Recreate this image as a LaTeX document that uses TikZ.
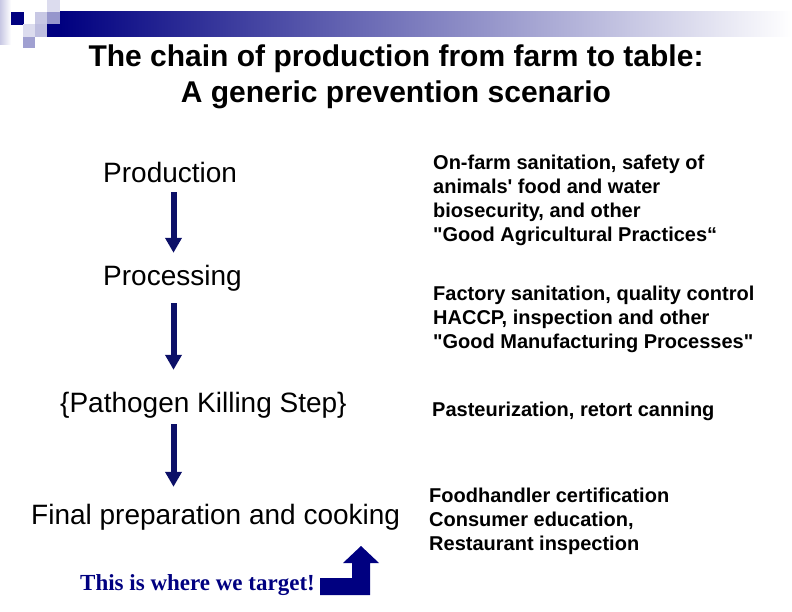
\documentclass[tikz,border=0pt]{standalone}
\usepackage{fontspec}
\setmainfont{Liberation Sans}[Ligatures=TeXOff]
\newfontfamily\targetface{Liberation Serif}
\usetikzlibrary{positioning}
\usetikzlibrary{arrows.meta}

\definecolor{deepblue}{RGB}{0,0,128}
\definecolor{arrowblue}{RGB}{12,16,104}
\definecolor{paleblue}{RGB}{220,220,238}
\definecolor{lightblue}{RGB}{200,200,228}
\definecolor{midblue}{RGB}{150,150,204}

\begin{document}
\begin{tikzpicture}[
x=1pt, y=-1pt,
flow/.style={draw=arrowblue, line width=6pt, -{Triangle[width=16pt,length=15pt]}},
stage/.style={anchor=west, inner sep=0pt, text height=21pt, text depth=6pt,
  font=\fontsize{28}{32}\selectfont},
practice/.style={anchor=west, inner sep=0pt, align=left,
  font=\bfseries\fontsize{20}{24}\selectfont}
]
\useasboundingbox (0,0) rectangle (792,612);

% header squares and bar
\shade[left color=lightblue, right color=white] (0,0) rectangle (11,45);
\shade[left color=deepblue, right color=white] (60,12) rectangle (792,37);
\fill[paleblue] (47,0) rectangle (60,12);
\fill[deepblue] (11,12) rectangle (24,25);
\fill[lightblue] (35,12) rectangle (47,24);
\fill[midblue] (47,12) rectangle (60,24);
\fill[paleblue] (23,24) rectangle (35,37);
\fill[lightblue!80!midblue] (35,24) rectangle (47,37);
\fill[deepblue] (47,24) rectangle (60,37);
\fill[midblue!80!lightblue] (23,37) rectangle (35,48);

\node[align=center, font=\bfseries\fontsize{30}{36}\selectfont] (title) at (396,76.9)
  {The chain of production from farm to table:\\A generic prevention scenario};

% chain stages
\node[stage] (prod) at (103,175.5) {Production};
\node[stage] (proc) at (103,277.5) {Processing};
\node[stage] (kill) at (60,404.5) {\{Pathogen Killing Step\}};
\node[stage] (final) at (31,516.5) {Final preparation and cooking};

\coordinate (axis) at (173.5,0);
\draw[flow, shorten <=3pt, shorten >=11pt] (prod.south -| axis) -- (proc.north -| axis);
\draw[flow, shorten <=12pt, shorten >=21pt] (proc.south -| axis) -- (kill.north -| axis);
\draw[flow, shorten <=6pt, shorten >=16pt] (kill.south -| axis) -- (final.north -| axis);

% practices
\node[practice] (farm) at (433,200) {On-farm sanitation, safety of\\animals' food and water\\biosecurity, and other\\"Good Agricultural Practices“};
\node[practice] (factory) at (433,319) {Factory sanitation, quality control\\HACCP, inspection and other\\"Good Manufacturing Processes"};
\node[practice] (pasteur) at (432,411) {Pasteurization, retort canning};
\node[practice] (handler) at (429,521) {Foodhandler certification\\Consumer education,\\Restaurant inspection};

% target
\node[anchor=west, inner sep=0pt, text=deepblue, font=\targetface\bfseries\fontsize{23}{26}\selectfont] (target) at (80,585) {This is where we target!};
\fill[deepblue] (320,578) -- (352,578) -- (352,563) -- (343,563) -- (361,546)
  -- (379,563) -- (370,563) -- (370,595) -- (320,595) -- cycle;
\end{tikzpicture}
\end{document}
